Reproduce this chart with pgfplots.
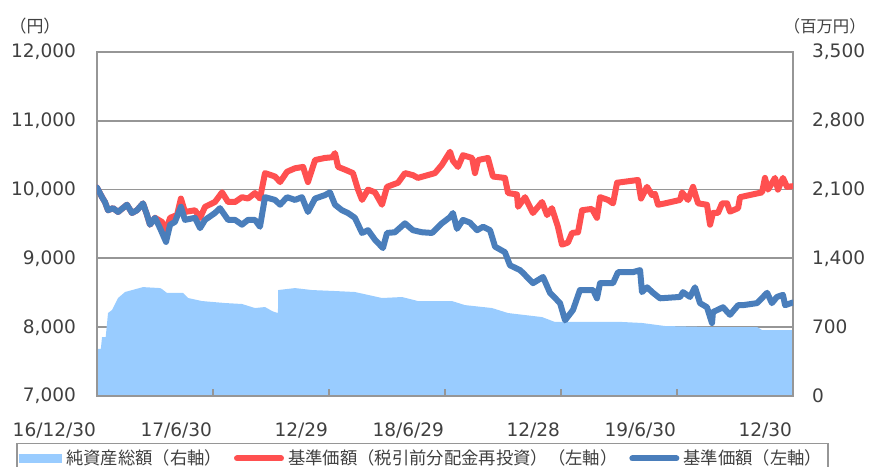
\documentclass[border=0pt]{standalone}
\usepackage{pgfplots}
\pgfplotsset{compat=1.18}
\usepackage{fontspec}
\setmainfont{DejaVu Sans}
\newfontfamily\jp{Noto Sans CJK JP}
\definecolor{areablue}{RGB}{153,204,255}
\definecolor{redl}{RGB}{255,80,80}
\definecolor{bluel}{RGB}{74,126,187}
\definecolor{gridc}{RGB}{150,150,150}
\definecolor{txt}{RGB}{64,64,64}
\pgfplotsset{
  linelegend/.style={legend image code/.code={\draw[##1] (0bp,0bp) -- (22bp,0bp);}},
  arealegend/.style={legend image code/.code={\fill[##1] (0bp,-2.3bp) rectangle (21.5bp,2.3bp);}},
  common/.style={
    width=348bp, height=172bp, scale only axis,
    xmin=0, xmax=36,
    scaled y ticks=false,
    /pgf/number format/assume math mode=true,
    /pgf/number format/fixed,
    /pgf/number format/1000 sep={,},
    ticklabel style={font=\fontsize{9.3}{11}\selectfont, text=txt},
  }
}
\begin{document}
\begin{tikzpicture}
\begin{axis}[common,
  ymin=0, ymax=3500,
  ytick={0,700,...,3500},
  ytick pos=right,
  xtick=\empty,
  axis line style={draw=none},
  major tick length=0pt,
  ymajorgrids,
  grid style={gridc, line width=0.9bp},
  yticklabel style={anchor=west, xshift=6bp},
]
\addplot[fill=areablue, draw=none] coordinates {
(0,480) (0.2,480) (0.26,600) (0.45,600) (0.57,844) (0.78,875) (1.09,997) (1.45,1058)
(2.38,1108) (3.26,1098) (3.36,1088) (3.62,1048) (4.45,1048) (4.71,997) (5.43,966)
(6.62,946) (7.50,936) (8.17,895) (8.69,905) (9.10,860) (9.36,844) (9.37,1078)
(10.24,1098) (11.12,1078) (12.31,1068) (13.34,1058) (14.74,997) (15.78,1007)
(16.60,966) (18.36,966) (19.03,925) (20.43,895) (21.26,844) (23.02,803) (23.69,753)
(27.16,753) (28.19,743) (29.38,712) (31.60,702) (34.14,702) (34.40,671) (36,671)
} \closedcycle;
\end{axis}
\begin{axis}[common, name=ax,
  ymin=7000, ymax=12000,
  ytick={7000,8000,...,12000},
  ytick pos=left,
  xtick={0,6,...,36},
  xticklabels={16/12/30,17/6/30,12/29,18/6/29,12/28,19/6/30,12/30},
  xtick pos=bottom,
  tick align=inside,
  xtick style={gridc, line width=1bp},
  major tick length=3.5bp,
  ytick style={draw=none},
  axis line style={gridc, line width=1bp},
  yticklabel style={anchor=east, xshift=-7bp},
  xticklabel style={anchor=north east, xshift=3bp, yshift=-10bp},
  legend columns=3,
  legend style={at={(0.4677,-0.136)}, anchor=north, draw=gridc, line width=0.8bp,
    font=\jp\fontsize{8.7}{10}\selectfont, text=txt,
    inner sep=1bp,
    /tikz/every even column/.append style={column sep=4bp},
    /tikz/every odd column/.append style={column sep=0bp}},
  legend cell align=left,
]
\addlegendimage{fill=areablue, draw=none, arealegend}
\addlegendentry{純資産総額（右軸）}
\addplot[redl, line width=3bp, line join=round, line cap=round, linelegend] coordinates {
(0.00,10030) (0.26,9890) (0.41,9820) (0.57,9700) (0.83,9730) (1.09,9675) (1.55,9780)
(1.81,9660) (2.07,9700) (2.38,9800) (2.59,9630) (2.74,9490) (3.00,9590) (3.36,9530)
(3.57,9410) (3.78,9590) (4.14,9630) (4.34,9870) (4.55,9675) (5.07,9700) (5.33,9590)
(5.59,9750) (6.10,9820) (6.47,9960) (6.78,9820) (7.14,9820) (7.50,9890) (7.81,9870)
(8.17,9950) (8.43,9870) (8.69,10240) (9.21,10190) (9.47,10110) (9.83,10260)
(10.24,10310) (10.66,10330) (10.91,10110) (11.28,10430) (11.79,10460) (12.16,10470)
(12.31,10530) (12.47,10330) (12.83,10290) (13.24,10240) (13.50,10000) (13.71,9850)
(14.02,10000) (14.38,9960) (14.74,9780) (15.00,10040) (15.57,10100) (15.93,10240)
(16.34,10210) (16.60,10170) (17.48,10240) (17.84,10360) (18.26,10550) (18.41,10420)
(18.67,10330) (18.93,10500) (19.40,10460) (19.55,10240) (19.71,10430) (20.22,10460)
(20.48,10190) (21.10,10170) (21.26,9950) (21.72,9930) (21.78,9750) (22.14,9890)
(22.55,9660) (23.02,9820) (23.28,9630) (23.53,9730) (23.84,9460) (24.05,9200)
(24.36,9230) (24.57,9370) (24.88,9380) (25.09,9700) (25.60,9720) (25.86,9590)
(26.02,9890) (26.43,9850) (26.69,9800) (26.90,10100) (27.98,10140) (28.14,9870)
(28.45,10040) (28.71,9920) (28.86,9940) (29.02,9780) (29.38,9800) (30.16,9850)
(30.26,9960) (30.57,9850) (30.83,10040) (31.09,9800) (31.55,9780) (31.71,9490)
(31.86,9660) (32.12,9660) (32.33,9800) (32.59,9800) (32.74,9680) (33.16,9730)
(33.26,9890) (34.40,9960) (34.55,10170) (34.71,10000) (35.07,10170) (35.22,10000)
(35.48,10170) (35.69,10040) (36.00,10050)
};
\addlegendentry{基準価額（税引前分配金再投資）（左軸）}
\addplot[bluel, line width=3bp, line join=round, line cap=round, linelegend] coordinates {
(0.00,10030) (0.26,9890) (0.41,9820) (0.57,9700) (0.83,9730) (1.09,9675) (1.55,9780)
(1.81,9660) (2.07,9700) (2.38,9800) (2.59,9630) (2.74,9490) (3.00,9590) (3.26,9440)
(3.57,9240) (3.78,9490) (4.03,9530) (4.34,9750) (4.55,9560) (5.07,9590) (5.33,9440)
(5.59,9560) (6.10,9660) (6.36,9730) (6.78,9560) (7.14,9560) (7.50,9490) (7.81,9560)
(8.17,9560) (8.43,9460) (8.69,9890) (9.21,9850) (9.47,9780) (9.83,9890) (10.24,9850)
(10.60,9890) (10.91,9675) (11.28,9870) (11.79,9920) (12.05,9960) (12.31,9780)
(12.67,9700) (12.98,9660) (13.34,9590) (13.71,9370) (14.02,9410) (14.38,9270)
(14.79,9150) (15.00,9370) (15.41,9380) (15.93,9510) (16.34,9410) (16.81,9380)
(17.33,9370) (17.84,9510) (18.26,9600) (18.41,9660) (18.62,9430) (18.93,9560)
(19.29,9520) (19.66,9410) (19.97,9460) (20.33,9410) (20.59,9170) (21.10,9090)
(21.36,8900) (21.88,8830) (22.03,8790) (22.55,8640) (23.07,8730) (23.43,8500)
(23.95,8350) (24.21,8100) (24.62,8250) (24.98,8540) (25.66,8540) (25.86,8420)
(26.02,8640) (26.69,8640) (26.95,8800) (27.72,8800) (28.09,8830) (28.19,8510)
(28.45,8580) (28.76,8500) (29.12,8420) (30.16,8440) (30.31,8510) (30.67,8440)
(30.93,8580) (31.19,8350) (31.55,8290) (31.81,8060) (31.86,8220) (32.38,8290)
(32.74,8180) (33.16,8320) (33.41,8320) (34.14,8350) (34.66,8500) (34.91,8350)
(35.17,8440) (35.48,8470) (35.59,8320) (36.00,8360)
};
\addlegendentry{基準価額（左軸）}
\end{axis}
\node[font=\jp\fontsize{8.5}{10}\selectfont, text=txt] at ([xshift=-31bp,yshift=13bp]ax.north west) {（円）};
\node[font=\jp\fontsize{8.2}{10}\selectfont, text=txt, anchor=east, inner sep=0pt] at ([xshift=36.5bp,yshift=13bp]ax.north east) {（百万円）};
\pgfresetboundingbox
\path (ax.south west) ++(-48.5bp,-35.5bp) rectangle ++(435bp,233.5bp);
\end{tikzpicture}
\end{document}
